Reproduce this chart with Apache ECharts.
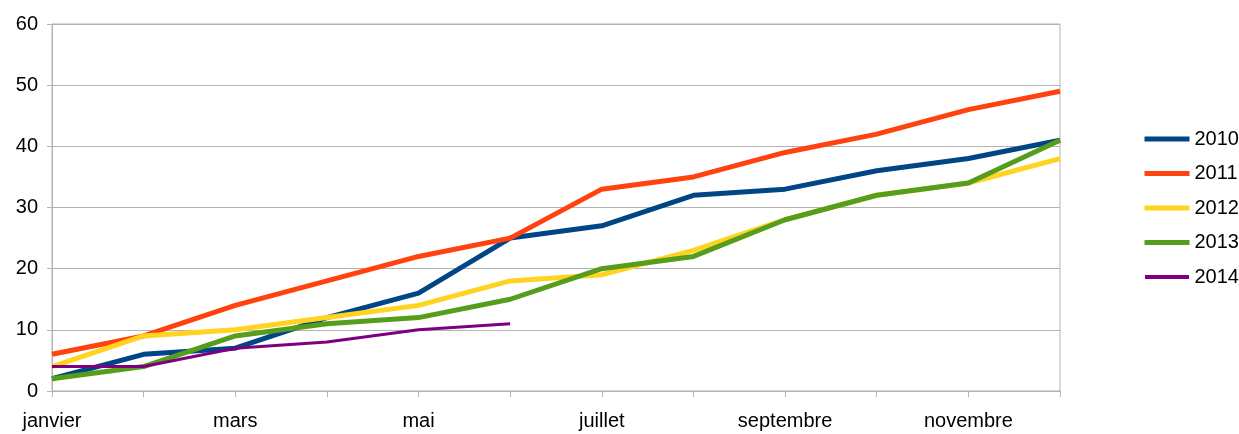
<!DOCTYPE html>
<html>
<head>
<meta charset="UTF-8">
<title>Cumul par mois</title>
<script type="text/javascript" src="https://cdn.jsdelivr.net/npm/echarts@6/dist/echarts.min.js"></script>
</head>
<body style="margin:0;">
<div id="main" style="width:1239px;height:434px;"></div>

<script type="text/javascript">
// mois
var months = ['janvier', 'février', 'mars', 'avril', 'mai', 'juin',
    'juillet', 'août', 'septembre', 'octobre', 'novembre', 'décembre'];
// valeurs par année
var y2010 = [2, 6, 7, 12, 16, 25, 27, 32, 33, 36, 38, 41];
var y2011 = [6, 9, 14, 18, 22, 25, 33, 35, 39, 42, 46, 49];
var y2012 = [4, 9, 10, 12, 14, 18, 19, 23, 28, 32, 34, 38];
var y2013 = [2, 4, 9, 11, 12, 15, 20, 22, 28, 32, 34, 41];
var y2014 = [4, 4, 7, 8, 10, 11];

var mychart = echarts.init(document.getElementById('main'));

function serie(name, data, color, width) {
    return {
        name: name,
        type: 'line',
        data: data,
        symbol: 'none',
        animation: false,
        lineStyle: { color: color, width: width },
        itemStyle: { color: color }
    };
}

var option = {
    textStyle: { fontFamily: 'Liberation Sans' },
    grid: {
        left: 52, right: 179, top: 24, bottom: 43,
        show: true, borderColor: '#b3b3b3', borderWidth: 1
    },
    legend: {
        orient: 'vertical',
        left: 1139,
        top: 124,
        itemWidth: 45,
        itemHeight: 5,
        itemGap: 14.5,
        icon: 'rect',
        textStyle: { fontSize: 20, color: '#000' },
        data: ['2010', '2011', '2012', '2013',
            { name: '2014', itemStyle: { borderColor: '#fff', borderWidth: 1 } }]
    },
    xAxis: {
        type: 'category',
        data: months,
        boundaryGap: false,
        axisLine: { lineStyle: { color: '#b3b3b3' } },
        axisTick: { show: true, interval: 0, length: 6, lineStyle: { color: '#b3b3b3' } },
        axisLabel: { interval: 1, fontSize: 20, color: '#000', margin: 20 },
        splitLine: { show: false }
    },
    yAxis: {
        type: 'value',
        min: 0, max: 60, interval: 10,
        axisLine: { show: true, lineStyle: { color: '#b3b3b3' } },
        axisTick: { show: true, length: 5, lineStyle: { color: '#b3b3b3' } },
        axisLabel: { fontSize: 20, color: '#000', margin: 14 },
        splitLine: { lineStyle: { color: '#b3b3b3' } }
    },
    series: [
        serie('2010', y2010, '#004586', 5),
        serie('2011', y2011, '#ff420e', 5),
        serie('2012', y2012, '#ffd320', 5),
        serie('2013', y2013, '#579d1c', 5),
        serie('2014', y2014, '#7e0080', 3)
    ]
};

mychart.setOption(option);
</script>
</body>
</html>
